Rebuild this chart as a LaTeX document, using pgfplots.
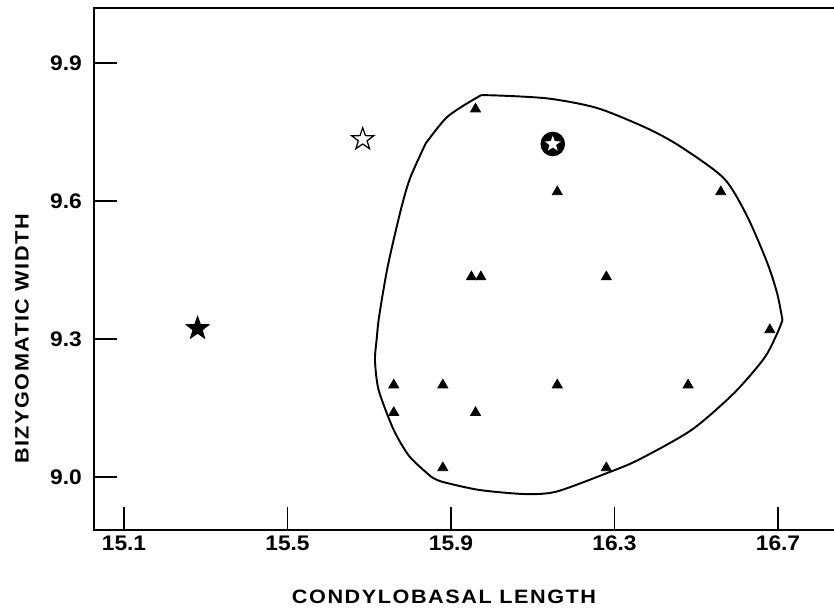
\documentclass[border=0pt]{standalone}
\usepackage{fontspec}
\setmainfont{Liberation Sans}
\newfontfamily\labelfont{Liberation Sans}[FakeStretch=1.12, LetterSpace=8]
\newfontfamily\tickfont{Liberation Sans}[FakeStretch=1.08]
\usepackage{pgfplots}
\pgfplotsset{compat=1.18}

% five-pointed star marks
\pgfdeclareplotmark{fivestar}{%
  \pgfpathmoveto{\pgfqpointpolar{90}{\pgfplotmarksize}}%
  \pgfpathlineto{\pgfqpointpolar{126}{0.4\pgfplotmarksize}}%
  \pgfpathlineto{\pgfqpointpolar{162}{\pgfplotmarksize}}%
  \pgfpathlineto{\pgfqpointpolar{198}{0.4\pgfplotmarksize}}%
  \pgfpathlineto{\pgfqpointpolar{234}{\pgfplotmarksize}}%
  \pgfpathlineto{\pgfqpointpolar{270}{0.4\pgfplotmarksize}}%
  \pgfpathlineto{\pgfqpointpolar{306}{\pgfplotmarksize}}%
  \pgfpathlineto{\pgfqpointpolar{342}{0.4\pgfplotmarksize}}%
  \pgfpathlineto{\pgfqpointpolar{18}{\pgfplotmarksize}}%
  \pgfpathlineto{\pgfqpointpolar{54}{0.4\pgfplotmarksize}}%
  \pgfpathclose
  \pgfusepathqfillstroke
}
\pgfdeclareplotmark{circstar}{%
  \pgfpathcircle{\pgfpointorigin}{\pgfplotmarksize}%
  \pgfsetfillcolor{black}\pgfusepathqfill
  \pgfpathmoveto{\pgfqpointpolar{90}{0.68\pgfplotmarksize}}%
  \pgfpathlineto{\pgfqpointpolar{126}{0.28\pgfplotmarksize}}%
  \pgfpathlineto{\pgfqpointpolar{162}{0.68\pgfplotmarksize}}%
  \pgfpathlineto{\pgfqpointpolar{198}{0.28\pgfplotmarksize}}%
  \pgfpathlineto{\pgfqpointpolar{234}{0.68\pgfplotmarksize}}%
  \pgfpathlineto{\pgfqpointpolar{270}{0.28\pgfplotmarksize}}%
  \pgfpathlineto{\pgfqpointpolar{306}{0.68\pgfplotmarksize}}%
  \pgfpathlineto{\pgfqpointpolar{342}{0.28\pgfplotmarksize}}%
  \pgfpathlineto{\pgfqpointpolar{18}{0.68\pgfplotmarksize}}%
  \pgfpathlineto{\pgfqpointpolar{54}{0.28\pgfplotmarksize}}%
  \pgfpathclose
  \pgfsetfillcolor{white}\pgfusepathqfill
}

\begin{document}
\begin{tikzpicture}
\begin{axis}[
    scale only axis,
    width=14.8cm, height=10.44cm,
    xmin=15.0266, xmax=16.837,
    ymin=8.8848, ymax=10.0196,
    clip=false,
    axis line style={draw=none},
    tick align=inside,
    xtick pos=left, ytick pos=left,
    major tick length=0.46cm,
    tick style={line width=1.1pt, black},
    xtick={15.1,15.5,15.9,16.3,16.7},
    xticklabels={15.1,15.5,15.9,16.3,16.7},
    ytick={9.0,9.3,9.6,9.9},
    yticklabels={9.0,9.3,9.6,9.9},
    ticklabel style={font=\tickfont\fontsize{12}{14}\selectfont\bfseries},
    yticklabel style={xshift=-0.12cm},
    xlabel={CONDYLOBASAL LENGTH},
    ylabel={BIZYGOMATIC WIDTH},
    label style={font=\labelfont\fontsize{11}{13}\selectfont\bfseries},
    xlabel style={at={(axis description cs:0.473,-0.128)}, anchor=center},
    ylabel style={at={(axis description cs:-0.0973,0.366)}, anchor=center},
]
% spines: top, left, bottom (open on the right)
\draw[line width=1.5pt] (rel axis cs:1.05,1) -- (rel axis cs:0,1) -- (rel axis cs:0,0) -- (rel axis cs:1.05,0);
\coordinate (ll) at (rel axis cs:0,0);
\coordinate (ur) at (rel axis cs:1,1);

% outline of the sample: left side, top/right arc, bottom
\addplot[black, line width=1.1pt, smooth, tension=0.45] coordinates {
  (15.851,9.001) (15.799,9.044) (15.760,9.102) (15.723,9.189) (15.714,9.254)
  (15.718,9.298) (15.724,9.348) (15.745,9.457) (15.777,9.580) (15.800,9.650)
  (15.838,9.725)
};
\addplot[black, line width=1.1pt, smooth, tension=0.45] coordinates {
  (15.838,9.725) (15.891,9.783) (15.964,9.825) (15.989,9.830) (16.136,9.823)
  (16.258,9.802) (16.380,9.758) (16.462,9.718) (16.568,9.649) (16.625,9.566)
  (16.674,9.465) (16.698,9.399) (16.711,9.341)
};
\addplot[black, line width=1.1pt, smooth, tension=0.45] coordinates {
  (16.711,9.341) (16.698,9.312) (16.666,9.258) (16.592,9.182) (16.488,9.102)
  (16.358,9.037) (16.280,9.008) (16.157,8.968) (16.079,8.963) (15.968,8.972)
  (15.877,8.990) (15.851,9.001)
};

% specimens
\addplot[only marks, mark=triangle*, mark size=3.3pt, black] coordinates {
  (15.96,9.80) (16.16,9.62) (16.56,9.62)
  (15.95,9.435) (15.973,9.435) (16.28,9.435)
  (16.68,9.32)
  (15.76,9.20) (15.88,9.20) (16.16,9.20) (16.48,9.20)
  (15.76,9.14) (15.96,9.14)
  (15.88,9.02) (16.28,9.02)
};
\addplot[only marks, mark=fivestar, mark size=7pt, black, mark options={fill=black}] coordinates {(15.28,9.323)};
\addplot[only marks, mark=fivestar, mark size=6.6pt, black, mark options={fill=white, line width=0.7pt}] coordinates {(15.684,9.734)};
\addplot[only marks, mark=circstar, mark size=7pt, black] coordinates {(16.149,9.724)};
\end{axis}
\pgfresetboundingbox
\path ([xshift=-1.88cm,yshift=-1.56cm]ll) rectangle ([yshift=0.16cm]ur);
\end{tikzpicture}
\end{document}
